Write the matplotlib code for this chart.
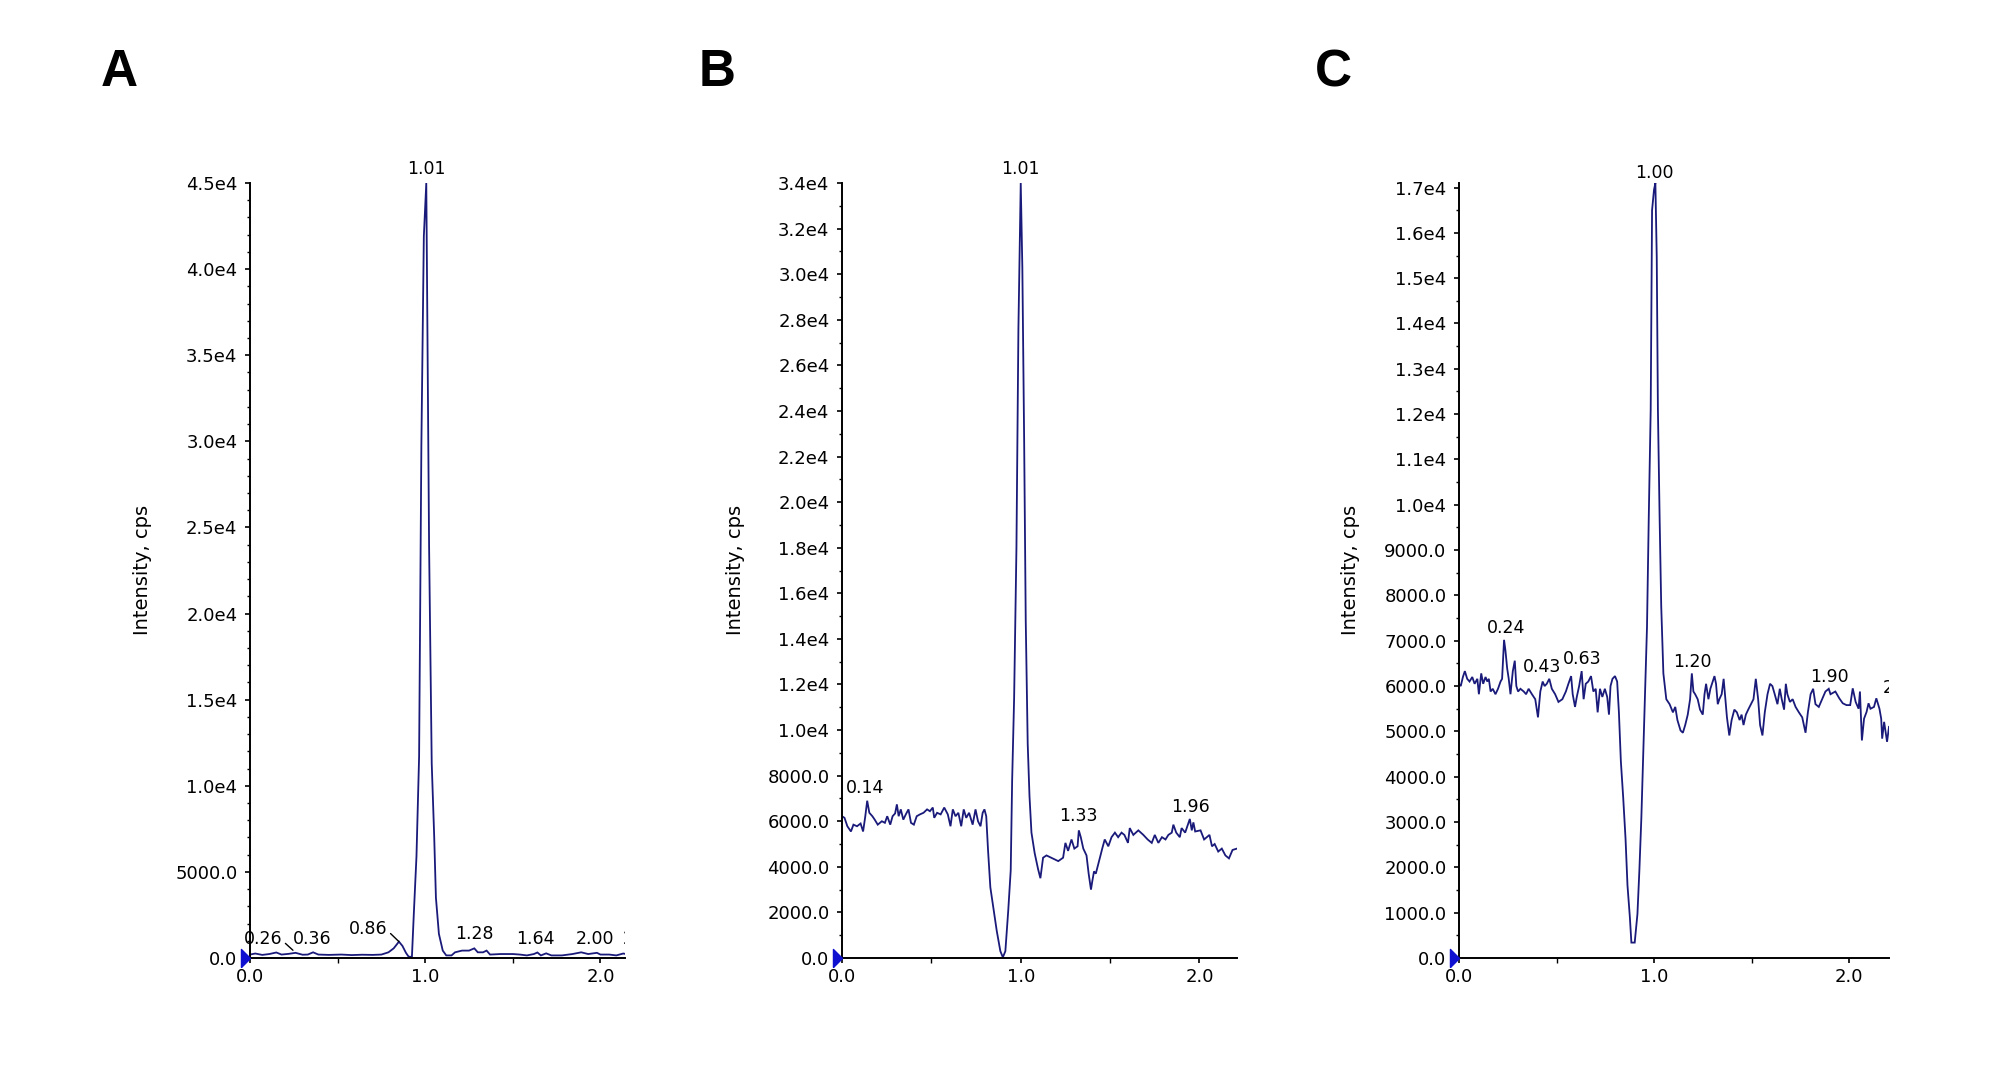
import matplotlib.pyplot as plt
from matplotlib.ticker import MultipleLocator, FuncFormatter

# retention time (min) and intensity (cps)
a_time = [0.00, 0.03, 0.07, 0.11, 0.15, 0.18, 0.22, 0.26, 0.30, 0.33, 0.36, 0.39,
          0.45, 0.52, 0.58, 0.64, 0.70, 0.75, 0.79, 0.82, 0.85, 0.87, 0.89, 0.905,
          0.924, 0.935, 0.95, 0.965, 0.978, 0.992, 1.006, 1.013, 1.022, 1.037, 1.051,
          1.061, 1.078, 1.10, 1.12, 1.15, 1.17, 1.21, 1.25, 1.28, 1.30, 1.33, 1.35,
          1.37, 1.43, 1.50, 1.54, 1.58, 1.62, 1.64, 1.66, 1.69, 1.72, 1.78, 1.84,
          1.89, 1.93, 1.98, 2.00, 2.05, 2.09, 2.13, 2.17]
a_cps = [200, 260, 180, 230, 320, 200, 240, 300, 190, 200, 330, 200,
         180, 200, 170, 190, 180, 200, 330, 560, 950, 700, 300, 80,
         60, 2600, 5900, 11700, 29800, 41900, 45000, 35800, 23900, 11300, 7100,
         3500, 1400, 430, 150, 150, 330, 430, 430, 560, 330, 330, 430,
         200, 230, 230, 200, 150, 230, 320, 150, 270, 150, 150, 230,
         330, 230, 300, 200, 200, 150, 260, 180]

b_time = [0.000, 0.014, 0.030, 0.050, 0.064, 0.084, 0.104, 0.118, 0.130, 0.141,
          0.153, 0.170, 0.183, 0.200, 0.223, 0.240, 0.253, 0.270, 0.283, 0.297,
          0.307, 0.317, 0.329, 0.343, 0.357, 0.372, 0.386, 0.402, 0.418, 0.436,
          0.456, 0.476, 0.492, 0.508, 0.516, 0.532, 0.552, 0.572, 0.592, 0.607,
          0.620, 0.635, 0.651, 0.667, 0.681, 0.695, 0.711, 0.731, 0.747, 0.761,
          0.775, 0.787, 0.797, 0.807, 0.817, 0.830, 0.847, 0.866, 0.886, 0.900,
          0.914, 0.930, 0.944, 0.952, 0.963, 0.976, 0.987, 1.000, 1.009, 1.019,
          1.028, 1.039, 1.049, 1.060, 1.078, 1.097, 1.110, 1.125, 1.144, 1.170,
          1.210, 1.237, 1.250, 1.265, 1.284, 1.300, 1.318, 1.325, 1.336, 1.350,
          1.368, 1.380, 1.393, 1.400, 1.410, 1.420, 1.430, 1.443, 1.456, 1.470,
          1.490, 1.508, 1.527, 1.545, 1.564, 1.580, 1.600, 1.610, 1.630, 1.658,
          1.686, 1.710, 1.733, 1.750, 1.770, 1.790, 1.810, 1.826, 1.845, 1.854,
          1.870, 1.890, 1.900, 1.920, 1.946, 1.957, 1.966, 1.976, 2.006, 2.026,
          2.056, 2.070, 2.085, 2.105, 2.125, 2.145, 2.165, 2.185, 2.210]
b_cps = [6220, 6150, 5780, 5550, 5850, 5780, 5900, 5550, 6200, 6900,
         6370, 6220, 6070, 5850, 6000, 5930, 6220, 5850, 6220, 6340,
         6740, 6220, 6520, 6070, 6300, 6520, 5930, 5850, 6220, 6300,
         6370, 6520, 6440, 6600, 6150, 6370, 6300, 6600, 6300, 5780,
         6520, 6220, 6370, 5780, 6520, 6150, 6370, 5850, 6520, 6000,
         5780, 6370, 6520, 6220, 4740, 3100, 2200, 1180, 300, 30,
         300, 2070, 3850, 7800, 11400, 18000, 27600, 34000, 30300, 22800,
         14800, 9400, 7100, 5500, 4600, 3900, 3500, 4400, 4500, 4400,
         4250, 4400, 5050, 4700, 5200, 4800, 4900, 5600, 5300, 4800,
         4500, 3700, 3000, 3350, 3800, 3700, 4000, 4400, 4800, 5200,
         4900, 5300, 5500, 5300, 5500, 5400, 5050, 5700, 5400, 5600,
         5400, 5200, 5050, 5400, 5050, 5300, 5200, 5400, 5500, 5850,
         5500, 5300, 5700, 5500, 6100, 5600, 5950, 5550, 5600, 5200,
         5400, 4900, 5000, 4670, 4800, 4500, 4370, 4740, 4800]

c_time = [0.000, 0.009, 0.020, 0.030, 0.042, 0.054, 0.068, 0.080, 0.094, 0.102,
          0.114, 0.124, 0.136, 0.145, 0.153, 0.162, 0.173, 0.187, 0.200, 0.213,
          0.221, 0.231, 0.238, 0.247, 0.255, 0.264, 0.276, 0.286, 0.294, 0.303,
          0.315, 0.332, 0.344, 0.357, 0.374, 0.391, 0.405, 0.417, 0.429, 0.439,
          0.450, 0.463, 0.476, 0.493, 0.510, 0.530, 0.548, 0.561, 0.575, 0.583,
          0.595, 0.604, 0.616, 0.629, 0.639, 0.650, 0.663, 0.677, 0.689, 0.701,
          0.711, 0.723, 0.735, 0.748, 0.760, 0.769, 0.777, 0.787, 0.800, 0.811,
          0.820, 0.830, 0.842, 0.854, 0.864, 0.876, 0.884, 0.901, 0.915, 0.925,
          0.935, 0.946, 0.956, 0.964, 0.973, 0.983, 0.990, 1.000, 1.007, 1.014,
          1.020, 1.029, 1.037, 1.048, 1.054, 1.063, 1.080, 1.097, 1.109, 1.120,
          1.136, 1.148, 1.160, 1.173, 1.185, 1.194, 1.202, 1.211, 1.224, 1.236,
          1.250, 1.259, 1.267, 1.279, 1.289, 1.301, 1.310, 1.318, 1.327, 1.335,
          1.347, 1.357, 1.366, 1.374, 1.386, 1.398, 1.412, 1.425, 1.439, 1.449,
          1.459, 1.471, 1.483, 1.497, 1.510, 1.522, 1.534, 1.544, 1.556, 1.568,
          1.582, 1.595, 1.607, 1.619, 1.633, 1.645, 1.655, 1.667, 1.676, 1.684,
          1.697, 1.711, 1.726, 1.743, 1.760, 1.777, 1.789, 1.803, 1.816, 1.828,
          1.845, 1.862, 1.879, 1.896, 1.905, 1.930, 1.950, 1.968, 1.987, 2.006,
          2.019, 2.034, 2.049, 2.056, 2.066, 2.077, 2.090, 2.100, 2.110, 2.128,
          2.140, 2.156, 2.165, 2.170, 2.180, 2.195, 2.205]
c_cps = [6050, 6000, 6200, 6330, 6160, 6100, 6200, 6050, 6160, 5820,
         6280, 6050, 6200, 6100, 6160, 5880, 5940, 5820, 5940, 6100,
         6160, 7020, 6790, 6390, 6160, 5820, 6330, 6560, 6000, 5880,
         5940, 5880, 5820, 5940, 5820, 5710, 5310, 5880, 6100, 6000,
         6050, 6160, 5940, 5820, 5650, 5710, 5880, 6050, 6220, 5820,
         5540, 5760, 6000, 6330, 5710, 6050, 6100, 6220, 5880, 5940,
         5420, 5940, 5760, 5940, 5760, 5370, 6000, 6160, 6220, 6100,
         5420, 4340, 3540, 2630, 1600, 910, 340, 340, 970, 1940,
         3080, 4680, 6100, 7300, 9700, 12100, 16500, 16950, 17100, 15470,
         12100, 9650, 7760, 6280, 6050, 5710, 5600, 5420, 5540, 5250,
         5020, 4970, 5140, 5370, 5710, 6280, 5880, 5820, 5710, 5480,
         5370, 5820, 6050, 5710, 5940, 6100, 6220, 6050, 5600, 5710,
         5820, 6160, 5710, 5310, 4910, 5250, 5480, 5420, 5250, 5370,
         5140, 5370, 5480, 5600, 5710, 6160, 5710, 5140, 4910, 5420,
         5820, 6050, 6000, 5820, 5600, 5940, 5710, 5480, 6050, 5820,
         5650, 5710, 5540, 5420, 5310, 4970, 5420, 5820, 5940, 5600,
         5540, 5710, 5880, 5940, 5820, 5880, 5730, 5620, 5580, 5580,
         5950, 5650, 5500, 5880, 4800, 5280, 5430, 5620, 5500, 5540,
         5730, 5500, 5280, 4840, 5210, 4770, 5100]

# peak annotations: text, position, leader target (None = no leader)
a_labels = ["0.26", "0.36", "0.86", "1.01", "1.28", "1.64", "2.00", "2.13"]
a_label_x = [0.076, 0.356, 0.676, 1.006, 1.282, 1.629, 1.97, 2.235]
a_label_y = [1100, 1100, 1680, 45800, 1390, 1100, 1100, 1100]
a_leader = [(0.245, 450), None, (0.85, 950), None, None, None, None, None]

b_labels = ["0.14", "1.01", "1.33", "1.96"]
b_label_x = [0.13, 1.0, 1.323, 1.948]
b_label_y = [7450, 34600, 6250, 6620]
b_leader = [None, None, None, None]

c_labels = ["0.24", "0.43", "0.63", "1.00", "1.20", "1.90", "2.17"]
c_label_x = [0.239, 0.427, 0.63, 1.0, 1.197, 1.902, 2.27]
c_label_y = [7280, 6430, 6600, 17330, 6540, 6190, 5950]
c_leader = [None, None, None, None, None, None, None]


def cps_label(v, pos):
    if v >= 1e4:
        return f"{v / 1e4:.1f}e4"
    return f"{v:.1f}"


fig = plt.figure(figsize=(20.08, 10.91), dpi=100)
W, H = 2008, 1091
trace_color = "#1a1a7a"

panels = [
    # letter, axes box (px), xmax, ymax, major, minor, data, labels
    ("A", (250, 625), 2.14, 45000, 5000, 1000, (a_time, a_cps),
     (a_labels, a_label_x, a_label_y, a_leader)),
    ("B", (842, 1237), 2.21, 34000, 2000, 1000, (b_time, b_cps),
     (b_labels, b_label_x, b_label_y, b_leader)),
    ("C", (1459, 1889), 2.205, 17100, 1000, 500, (c_time, c_cps),
     (c_labels, c_label_x, c_label_y, c_leader)),
]
letter_x = [119, 717, 1333]
ylabel_x = [143, 736, 1351]
top_px, bottom_px = 183, 958

for k, (letter, (x0, x1), xmax, ymax, major, minor, (t, cps), labs) in enumerate(panels):
    ax = fig.add_axes([x0 / W, 1 - bottom_px / H, (x1 - x0) / W, (bottom_px - top_px) / H])
    ax.plot(t, cps, color=trace_color, lw=1.3, solid_joinstyle="miter")
    ax.set_xlim(0, xmax)
    ax.set_ylim(0, ymax)

    for side in ("top", "right"):
        ax.spines[side].set_visible(False)
    for side in ("left", "bottom"):
        ax.spines[side].set_linewidth(1.4)

    ax.xaxis.set_major_locator(MultipleLocator(1.0))
    ax.xaxis.set_minor_locator(MultipleLocator(0.5))
    ax.xaxis.set_major_formatter(FuncFormatter(lambda v, p: f"{v:.1f}"))
    ax.yaxis.set_major_locator(MultipleLocator(major))
    ax.yaxis.set_minor_locator(MultipleLocator(minor))
    ax.yaxis.set_major_formatter(FuncFormatter(cps_label))
    ax.tick_params(axis="both", which="major", direction="out", length=3.5,
                   width=1.2, labelsize=13, pad=4)
    ax.tick_params(axis="y", which="major", pad=5.5)
    ax.tick_params(axis="both", which="minor", direction="out", length=2.5, width=1.0)
    ax.tick_params(axis="x", which="minor", length=3.5)

    # start marker at the origin
    ax.plot([0], [0], marker=[(-1, -1), (0, 0), (-1, 1), (-1, -1)], ms=13,
            color="#1010d0", clip_on=False, zorder=5)

    texts, lx, ly, leaders = labs
    for txt, x, y, lead in zip(texts, lx, ly, leaders):
        clip = x > xmax - 0.05
        if lead is None:
            ax.text(x, y, txt, ha="center", va="center", fontsize=12.5,
                    clip_on=clip)
        else:
            ax.annotate(txt, xy=lead, xytext=(x, y), ha="center", va="center",
                        fontsize=12.5,
                        arrowprops=dict(arrowstyle="-", color="black", lw=1.0,
                                        relpos=(1.0, 0.4), shrinkA=0, shrinkB=0))

    fig.text(ylabel_x[k] / W, 1 - 570 / H, "Intensity, cps", rotation=90,
             ha="center", va="center", fontsize=14)
    fig.text(letter_x[k] / W, 1 - 73 / H, letter, ha="center", va="center",
             fontsize=37, fontweight="bold", family="Liberation Sans")

fig.savefig("out.png", dpi=100, facecolor="white")
